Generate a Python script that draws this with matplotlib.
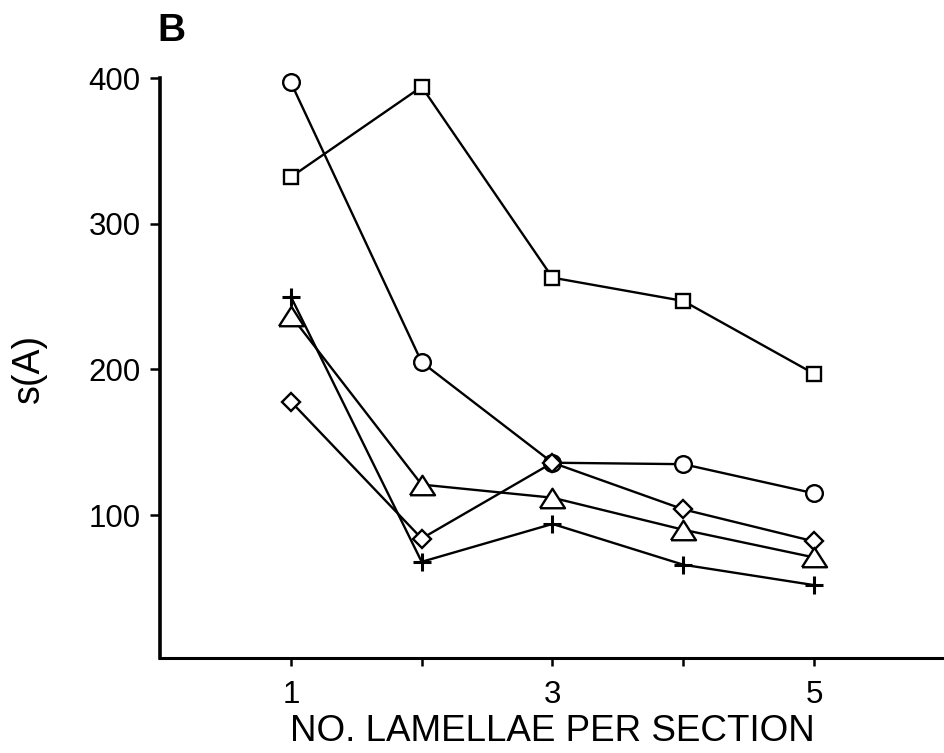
#!/usr/bin/env python3
# -*- coding: utf-8 -*-
"""
Panel B: s(A) against the number of lamellae per section, five series.
"""

import numpy as np
import matplotlib
matplotlib.use('Agg')
import matplotlib.pyplot as plt

lamellae = [1, 2, 3, 4, 5]

s_circle = [397, 205, 136, 135, 115]
s_square = [332, 394, 263, 247, 197]
s_plus = [250, 68, 94, 66, 52]
s_triangle = [237, 121, 112, 90, 71]
s_diamond = [178, 84, 136, 104, 82]

xtick_labels = ['1', '', '3', '', '5']
ytick_values = [100, 200, 300, 400]

# wide, flat triangle (the stock '^' is as tall as it is wide)
flat_tri = [(-1.0, -0.78), (1.0, -0.78), (0.0, 0.78), (-1.0, -0.78)]

plt.rcParams['font.family'] = ['Liberation Sans', 'DejaVu Sans']

fig = plt.figure(figsize=(9.45, 7.53), dpi=100)
ax = fig.add_axes([160/945, 1 - 658/753, 785/945, 580/753])

common = dict(color='black', lw=1.7, mfc='white', mec='black', mew=1.7, clip_on=False)
ax.plot(lamellae, s_square, marker='s', ms=10, **common)
ax.plot(lamellae, s_circle, marker='o', ms=12, **common)
ax.plot(lamellae, s_diamond, marker='D', ms=9.5, **common)
ax.plot(lamellae, s_triangle, marker=flat_tri, ms=18, **common)
ax.plot(lamellae, s_plus, marker='+', ms=12.5, color='black', lw=1.7, mew=2.2, clip_on=False)

ax.set_xlim(0, 6)
ax.set_ylim(2, 400)
ax.set_xticks(lamellae)
ax.set_xticklabels(xtick_labels)
ax.set_yticks(ytick_values)

for side in ['top', 'right']:
    ax.spines[side].set_visible(False)
ax.spines['left'].set_linewidth(2.6)
ax.spines['bottom'].set_linewidth(2.2)

ax.tick_params(axis='x', direction='out', length=6, width=1.8, pad=10, labelsize=22.5)
ax.tick_params(axis='y', direction='out', length=7, width=1.8, pad=7, labelsize=22.5)

ax.set_xlabel('NO. LAMELLAE PER SECTION', fontsize=26.5, labelpad=3)
ax.set_ylabel('s(A)', fontsize=27, labelpad=30)

fig.text(157/945, 1 - 41/753, 'B', fontsize=28, fontweight='bold', ha='left', va='baseline')

fig.savefig('out.png', dpi=100)
